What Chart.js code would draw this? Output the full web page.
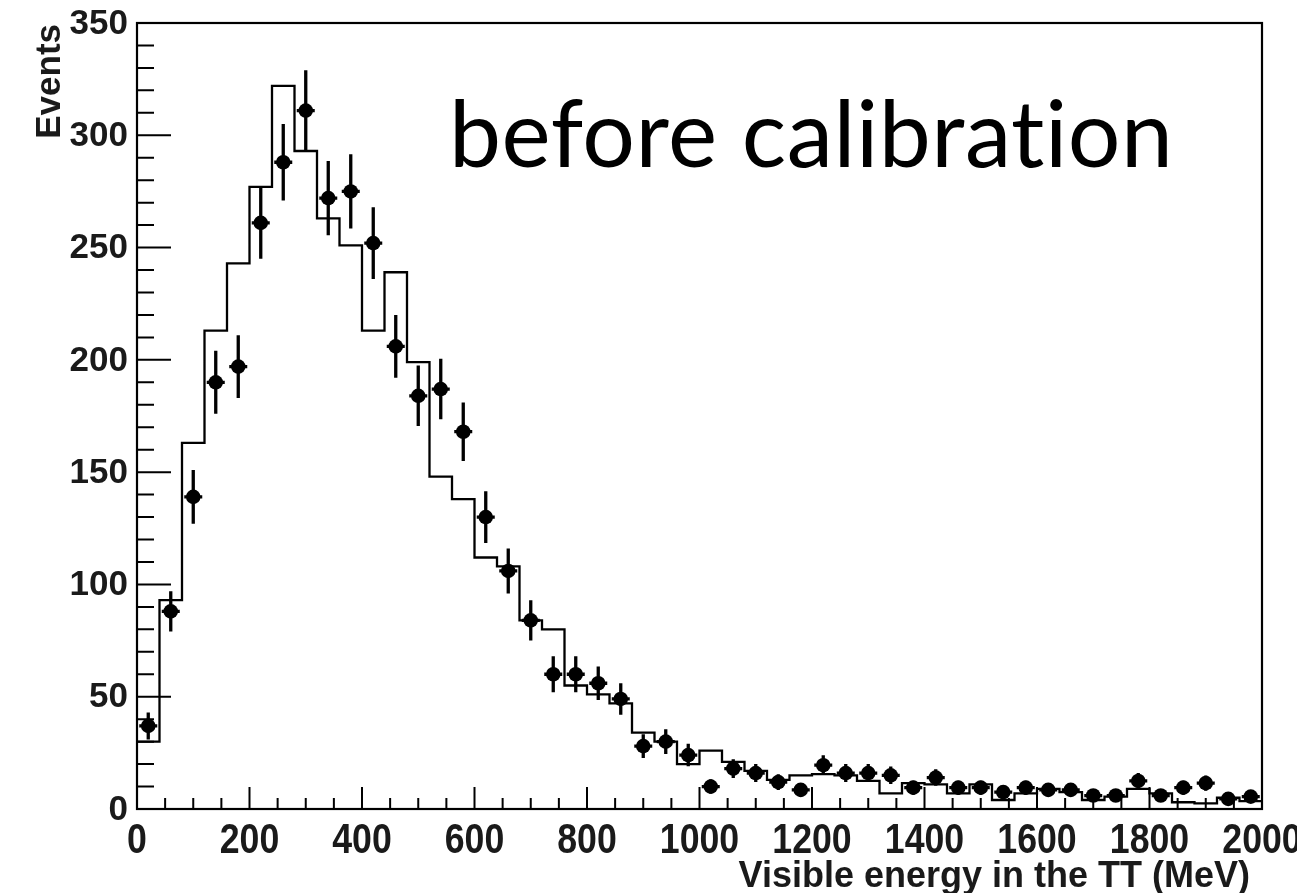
<!DOCTYPE html>
<html lang="en">
<head>
  <meta charset="UTF-8">
  <title>Visible energy in the TT - before calibration</title>
  <script src="https://cdn.jsdelivr.net/npm/chart.js"></script>
  <style>
    body {
      margin: 0;
      background: #fff;
      overflow: hidden;
    }
    .wrap {
      width: 1297px;
      height: 893px;
      position: relative;
    }
  </style>
</head>
<body>
  <div class="wrap">
    <canvas id="energyChart"></canvas>
  </div>

  <script>
    // 40 MeV bins, 0 - 2000 MeV
    const binWidth = 40;
    const binCenters = [
      20, 60, 100, 140, 180, 220, 260, 300, 340, 380,
      420, 460, 500, 540, 580, 620, 660, 700, 740, 780,
      820, 860, 900, 940, 980, 1020, 1060, 1100, 1140, 1180,
      1220, 1260, 1300, 1340, 1380, 1420, 1460, 1500, 1540, 1580,
      1620, 1660, 1700, 1740, 1780, 1820, 1860, 1900, 1940, 1980
    ];

    // simulation (histogram outline)
    const mcCounts = [
      30, 93, 163, 213, 243, 277, 322, 293, 263, 251,
      213, 239, 199, 148, 138, 112, 108, 84, 80, 55,
      51, 47, 34, 30, 20, 26, 21, 17, 13, 15,
      15.5, 15, 12.5, 7, 11.5, 11, 7, 11, 4, 7,
      9, 7.5, 4, 5.5, 9, 7, 3, 2.5, 5, 3.5
    ];

    // measured events (markers)
    const dataCounts = [
      37, 88, 139, 190, 197, 261, 288, 311, 272, 275,
      252, 206, 184, 187, 168, 130, 106, 84, 60, 60,
      56, 49, 28, 30, 24, 10, 18, 16, 12, 8.5,
      19.5, 16, 16, 15, 9.5, 14, 9.5, 9.5, 7.5, 9.5,
      8.5, 8.5, 6, 6, 12.5, 6, 9.5, 11.5, 4.5, 5.5
    ];

    const dataErrors = [
      6, 9, 12, 14, 14, 16, 17, 18, 16.5, 16.5,
      16, 14, 13.5, 13.5, 13, 11.5, 10, 9, 8, 8,
      7.5, 7, 5.3, 5.5, 5, 3.2, 4.2, 4, 3.5, 3,
      4.4, 4, 4, 3.9, 3.1, 3.7, 3.1, 3.1, 2.7, 3.1,
      2.9, 2.9, 2.4, 2.4, 3.5, 2.4, 3.1, 3.4, 2.1, 2.3
    ];

    const xTickLabels = [0, 200, 400, 600, 800, 1000, 1200, 1400, 1600, 1800, 2000];
    const yTickLabels = [0, 50, 100, 150, 200, 250, 300, 350];
    const xMinorStep = 50;
    const yMinorStep = 10;
    const xErrHalf = 16;

    const ink = '#1a1a1a';

    // histogram outline: left edge of each bin, plus closing point at 2000
    const histPoints = binCenters.map((c, i) => ({ x: c - binWidth / 2, y: mcCounts[i] }));
    histPoints.push({ x: binCenters[binCenters.length - 1] + binWidth / 2, y: mcCounts[mcCounts.length - 1] });

    const dataPoints = binCenters.map((c, i) => ({ x: c, y: dataCounts[i] }));

    // ROOT-like frame, inward ticks, labels, error bars
    const rootStyle = {
      id: 'rootStyle',
      beforeDatasetsDraw(chart) {
        const { ctx, scales: { x, y } } = chart;
        ctx.save();
        ctx.strokeStyle = '#000';
        ctx.lineWidth = 3.3;
        binCenters.forEach((c, i) => {
          const px = x.getPixelForValue(c);
          const py = y.getPixelForValue(dataCounts[i]);
          ctx.beginPath();
          ctx.moveTo(px, y.getPixelForValue(dataCounts[i] - dataErrors[i]));
          ctx.lineTo(px, y.getPixelForValue(dataCounts[i] + dataErrors[i]));
          ctx.moveTo(x.getPixelForValue(c - xErrHalf), py);
          ctx.lineTo(x.getPixelForValue(c + xErrHalf), py);
          ctx.stroke();
        });
        ctx.restore();
      },
      afterDraw(chart) {
        const { ctx, chartArea: a, scales: { x, y } } = chart;
        ctx.save();

        // frame
        ctx.strokeStyle = '#000';
        ctx.lineWidth = 2.2;
        ctx.strokeRect(a.left, a.top, a.right - a.left, a.bottom - a.top);

        // ticks
        ctx.lineWidth = 2;
        ctx.beginPath();
        for (let v = 0; v <= 350; v += yMinorStep) {
          const py = y.getPixelForValue(v);
          const len = v % 50 === 0 ? 34 : 17;
          ctx.moveTo(a.left, py);
          ctx.lineTo(a.left + len, py);
        }
        for (let v = 0; v <= 2000; v += xMinorStep) {
          const px = x.getPixelForValue(v);
          const len = v % 200 === 0 ? 22 : 11;
          ctx.moveTo(px, a.bottom);
          ctx.lineTo(px, a.bottom - len);
        }
        ctx.stroke();

        // tick labels
        ctx.fillStyle = ink;
        ctx.font = 'bold 35px "Liberation Sans", Arial, sans-serif';
        ctx.textAlign = 'right';
        ctx.textBaseline = 'middle';
        yTickLabels.forEach(v => {
          ctx.fillText(String(v), 128, y.getPixelForValue(v) + 1);
        });

        ctx.textAlign = 'center';
        ctx.textBaseline = 'alphabetic';
        xTickLabels.forEach(v => {
          const px = x.getPixelForValue(v);
          ctx.save();
          ctx.translate(px, 853);
          ctx.scale(0.85, 1);
          ctx.font = 'bold 42px "Liberation Sans", Arial, sans-serif';
          ctx.fillText(String(v), 0, 0);
          ctx.restore();
        });

        // axis titles
        ctx.font = 'bold 36px "Liberation Sans", Arial, sans-serif';
        ctx.textAlign = 'right';
        ctx.fillText('Visible energy in the TT (MeV)', 1250, 887);

        ctx.save();
        ctx.translate(60, 24);
        ctx.rotate(-Math.PI / 2);
        ctx.font = 'bold 35px "Liberation Sans", Arial, sans-serif';
        ctx.textAlign = 'right';
        ctx.fillText('Events', 0, 0);
        ctx.restore();

        // annotation (letter spacing keeps "ti" from joining)
        ctx.fillStyle = '#000';
        ctx.font = '93px Lato, "Open Sans", sans-serif';
        ctx.letterSpacing = '0.5px';
        ctx.textAlign = 'left';
        ctx.fillText('before calibration', 449, 167);

        ctx.restore();
      }
    };

    const ctx = document.getElementById('energyChart').getContext('2d');
    const energyChart = new Chart(ctx, {
      type: 'scatter',
      data: {
        datasets: [
          {
            label: 'Data',
            data: dataPoints,
            pointRadius: 7.3,
            pointBackgroundColor: '#000',
            pointBorderWidth: 0,
            order: 0
          },
          {
            type: 'line',
            label: 'MC',
            data: histPoints,
            stepped: 'before',
            borderColor: '#000',
            borderWidth: 2.3,
            pointRadius: 0,
            fill: false,
            order: 1
          }
        ]
      },
      options: {
        responsive: true,
        maintainAspectRatio: false,
        animation: false,
        events: [],
        layout: {
          padding: { left: 137, top: 23, right: 35, bottom: 84 }
        },
        plugins: {
          legend: { display: false },
          tooltip: { enabled: false }
        },
        scales: {
          x: { type: 'linear', min: 0, max: 2000, display: false },
          y: { type: 'linear', min: 0, max: 350, display: false }
        }
      },
      plugins: [rootStyle]
    });
  </script>
</body>
</html>
